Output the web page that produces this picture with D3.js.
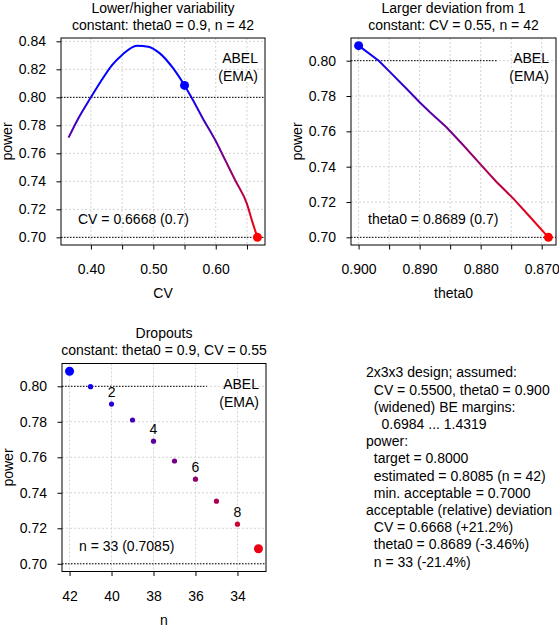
<!DOCTYPE html>
<html>
<head>
<meta charset="utf-8">
<script src="https://cdn.jsdelivr.net/npm/d3@7"></script>
<style>
  body { margin: 0; background: #fff; }
  svg text { font-family: "Liberation Sans", Arial, sans-serif; font-size: 14px; fill: #000; }
</style>
</head>
<body>
<svg id="chart" width="559" height="626"></svg>
<script>
// --- data ---
// panel 1: power vs CV (theta0 = 0.9, n = 42)
var cvValues = [0.3642, 0.3789, 0.40, 0.4158, 0.4342, 0.45, 0.4737, 0.4921, 0.5105, 0.5316,
                0.55, 0.5632, 0.5789, 0.60, 0.6158, 0.6316, 0.65, 0.6579, 0.6668];
var cvPower  = [0.7712, 0.7842, 0.8000, 0.8113, 0.8232, 0.8303, 0.8369, 0.8362, 0.8314, 0.8208,
                0.8085, 0.7983, 0.7853, 0.7688, 0.7546, 0.7404, 0.7239, 0.7121, 0.7000];

// panel 2: power vs theta0 (CV = 0.55, n = 42)
var thetaValues = [0.900, 0.8967, 0.8948, 0.8921, 0.8900, 0.8883, 0.8856, 0.8828, 0.8801,
                   0.8774, 0.8746, 0.8719, 0.8689];
var thetaPower  = [0.8085, 0.8000, 0.7934, 0.7840, 0.7765, 0.7708, 0.7623, 0.7520, 0.7416,
                   0.7313, 0.7218, 0.7115, 0.7000];

// panel 3: power vs n (dropouts)
var nValues = [42, 41, 40, 39, 38, 37, 36, 35, 34, 33];
var nPower  = [0.8085, 0.7998, 0.7900, 0.7810, 0.7691, 0.7579, 0.7477, 0.7353, 0.7223, 0.7085];
var dropoutsShown = [2, 4, 6, 8];

var targetPower = 0.80, minPower = 0.70, estPower = 0.8085;
var cvBase = 0.55, cvLimit = 0.6668, thetaBase = 0.900, thetaLimit = 0.8689;

// ticks
var yTicks1 = [0.70, 0.72, 0.74, 0.76, 0.78, 0.80, 0.82, 0.84];
var yTicks2 = [0.70, 0.72, 0.74, 0.76, 0.78, 0.80];
var cvTicks = [0.40, 0.45, 0.50, 0.55, 0.60, 0.65];
var cvLabels = [0.40, 0.50, 0.60];
var thetaTicks = [0.900, 0.895, 0.890, 0.885, 0.880, 0.875, 0.870];
var thetaLabels = [0.900, 0.890, 0.880, 0.870];
var nTicks = [42, 40, 38, 36, 34];

var legendLines = ["ABEL", "(EMA)"];
var infoLines = [
  "2x3x3 design; assumed:",
  "  CV = 0.5500, theta0 = 0.900",
  "  (widened) BE margins:",
  "    0.6984 ... 1.4319",
  "power:",
  "  target = 0.8000",
  "  estimated = 0.8085 (n = 42)",
  "  min. acceptable = 0.7000",
  "acceptable (relative) deviation",
  "  CV = 0.6668 (+21.2%)",
  "  theta0 = 0.8689 (-3.46%)",
  "  n = 33 (-21.4%)"
];

var svg = d3.select("#chart");
var defs = svg.append("defs");

function near(a, b) { return Math.abs(a - b) < 1e-9; }

function drawPanel(o) {
  var bx = o.box[0], by = o.box[1], bw = o.box[2], bh = o.box[3];
  var g = svg.append("g");

  var xmin = d3.min(o.xs), xmax = d3.max(o.xs), xpad = (xmax - xmin) * 0.04;
  var xDom = o.reverse ? [xmax + xpad, xmin - xpad] : [xmin - xpad, xmax + xpad];
  var x = d3.scaleLinear().domain(xDom).range([bx, bx + bw]);

  var ylo = Math.min(minPower, d3.min(o.ys)), yhi = d3.max(o.ys), ypad = (yhi - ylo) * 0.04;
  var y = d3.scaleLinear().domain([ylo - ypad, yhi + ypad]).range([by + bh, by]);

  var col = d3.scaleLinear().domain([minPower, estPower]).range(["#ff0000", "#0000ff"])
    .interpolate(d3.interpolateRgb).clamp(true);

  // grid
  g.selectAll(".gx").data(o.xTicks).enter().append("line")
    .attr("x1", x).attr("x2", x).attr("y1", by).attr("y2", by + bh)
    .attr("stroke", "#d3d3d3").attr("stroke-dasharray", "2,2");
  g.selectAll(".gy").data(o.yTicks).enter().append("line")
    .attr("x1", bx).attr("x2", bx + bw).attr("y1", y).attr("y2", y)
    .attr("stroke", "#d3d3d3").attr("stroke-dasharray", "2,2");

  // reference lines
  g.append("line").attr("x1", bx).attr("x2", bx + bw * o.refFrac)
    .attr("y1", y(targetPower)).attr("y2", y(targetPower))
    .attr("stroke", "#000").attr("stroke-dasharray", "1.5,1.5");
  g.append("line").attr("x1", bx).attr("x2", bx + bw)
    .attr("y1", y(minPower)).attr("y2", y(minPower))
    .attr("stroke", "#000").attr("stroke-dasharray", "1.5,1.5");

  // axes
  var ya = g.append("g").attr("transform", "translate(" + bx + ",0)")
    .call(d3.axisLeft(y).tickValues(o.yTicks).tickSize(4.5).tickPadding(10.5).tickFormat(d3.format(".2f")));
  var xa = g.append("g").attr("transform", "translate(0," + (by + bh) + ")")
    .call(d3.axisBottom(x).tickValues(o.xTicks).tickSize(4.5).tickPadding(15)
      .tickFormat(function (d) {
        return o.xLabels.some(function (v) { return near(v, d); }) ? d3.format(o.xFmt)(d) : "";
      }));
  [ya, xa].forEach(function (a) {
    a.select(".domain").remove();
    a.attr("font-size", null).attr("font-family", null);
  });

  // data marks
  if (o.type === "line") {
    var gid = "grad" + o.id;
    var grad = defs.append("linearGradient").attr("id", gid)
      .attr("gradientUnits", "userSpaceOnUse")
      .attr("x1", 0).attr("x2", 0).attr("y1", y(minPower)).attr("y2", y(estPower));
    d3.range(0, 1.0001, 0.1).forEach(function (t) {
      grad.append("stop").attr("offset", t).attr("stop-color", d3.interpolateRgb("#ff0000", "#0000ff")(t));
    });
    var pts = o.xs.map(function (v, i) { return [x(v), y(o.ys[i])]; });
    g.append("path").attr("d", d3.line().curve(o.curve)(pts))
      .attr("fill", "none").attr("stroke", "url(#" + gid + ")").attr("stroke-width", 2);
    o.marks.forEach(function (m) {
      g.append("circle").attr("cx", x(m[0])).attr("cy", y(m[1])).attr("r", 4.5).attr("fill", col(m[1]));
    });
  } else {
    o.xs.forEach(function (v, i) {
      var big = i === 0 || i === o.xs.length - 1;
      g.append("circle").attr("cx", x(v)).attr("cy", y(o.ys[i])).attr("r", big ? 4.5 : 2.6)
        .attr("fill", col(o.ys[i]));
      var drop = nValues[0] - v;
      if (dropoutsShown.indexOf(drop) >= 0) {
        g.append("text").attr("x", x(v)).attr("y", y(o.ys[i]) - 7)
          .attr("text-anchor", "middle").text(drop);
      }
    });
  }

  // box
  g.append("rect").attr("x", bx).attr("y", by).attr("width", bw).attr("height", bh)
    .attr("fill", "none").attr("stroke", "#000");

  // titles
  var cx = bx + bw / 2;
  g.append("text").attr("x", cx).attr("y", by - 25.5).attr("text-anchor", "middle").text(o.title[0]);
  g.append("text").attr("x", cx).attr("y", by - 8.5).attr("text-anchor", "middle").text(o.title[1]);
  g.append("text").attr("x", cx).attr("y", by + bh + 53).attr("text-anchor", "middle").text(o.xTitle);
  g.append("text").attr("transform", "translate(" + (bx - 49) + "," + (by + bh / 2) + ") rotate(-90)")
    .attr("text-anchor", "middle").text("power");

  // legend + annotation
  legendLines.forEach(function (s, i) {
    g.append("text").attr("x", bx + bw - 7).attr("y", by + 25 + i * 18)
      .attr("text-anchor", "end").text(s);
  });
  g.append("text").attr("x", bx + 17).attr("y", by + bh - 21).text(o.annot);
}

drawPanel({
  id: 1, box: [61, 38, 204, 207], type: "line", curve: d3.curveMonotoneX,
  xs: cvValues, ys: cvPower, reverse: false,
  xTicks: cvTicks, xLabels: cvLabels, xFmt: ".2f", yTicks: yTicks1,
  marks: [[cvBase, estPower], [cvLimit, minPower]], refFrac: 1,
  title: ["Lower/higher variability", "constant: theta0 = 0.9, n = 42"],
  xTitle: "CV", annot: "CV = 0.6668 (0.7)"
});

drawPanel({
  id: 2, box: [351, 38, 205, 207], type: "line", curve: d3.curveLinear,
  xs: thetaValues, ys: thetaPower, reverse: true,
  xTicks: thetaTicks, xLabels: thetaLabels, xFmt: ".3f", yTicks: yTicks2,
  marks: [[thetaBase, estPower], [thetaLimit, minPower]], refFrac: 0.71,
  title: ["Larger deviation from 1", "constant: CV = 0.55, n = 42"],
  xTitle: "theta0", annot: "theta0 = 0.8689 (0.7)"
});

drawPanel({
  id: 3, box: [62, 363.5, 204, 208], type: "points",
  xs: nValues, ys: nPower, reverse: true,
  xTicks: nTicks, xLabels: nTicks, xFmt: "d", yTicks: yTicks2,
  refFrac: 0.71,
  title: ["Dropouts", "constant: theta0 = 0.9, CV = 0.55"],
  xTitle: "n", annot: "n = 33 (0.7085)"
});

// summary text
svg.append("g").selectAll("text").data(infoLines).enter().append("text")
  .attr("x", 366).attr("y", function (d, i) { return 377.3 + i * 17.2; })
  .style("white-space", "pre").text(function (d) { return d; });
</script>
</body>
</html>
